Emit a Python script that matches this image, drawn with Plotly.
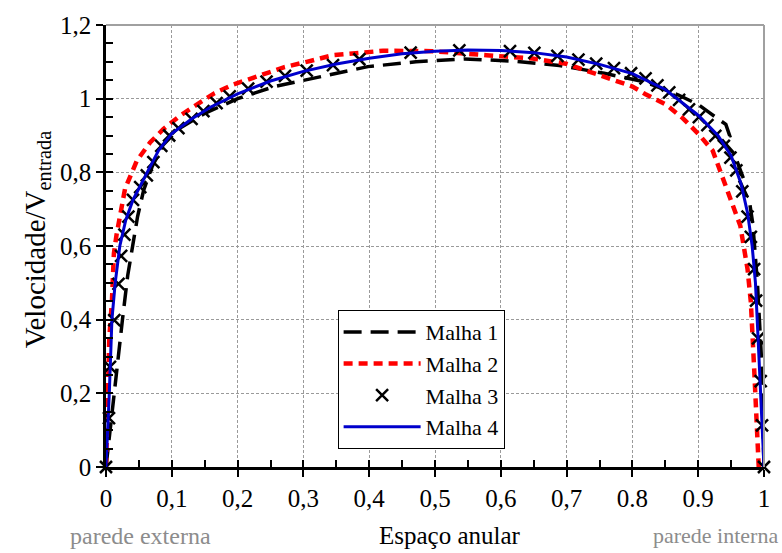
import plotly.graph_objects as go

# ---- data ----
m1_x = [0.0, 0.008, 0.016, 0.025, 0.033, 0.040, 0.048, 0.057, 0.070, 0.087, 0.112, 0.150, 0.200,
        0.256, 0.327, 0.398, 0.471, 0.545, 0.618, 0.689, 0.757, 0.820, 0.870, 0.900, 0.917,
        0.942, 0.948, 0.935, 0.955, 0.970, 0.962, 0.978, 0.983, 0.990, 0.996, 1.0]
m1_y = [0.0, 0.13, 0.27, 0.40, 0.52, 0.60, 0.68, 0.75, 0.815, 0.875, 0.92, 0.96, 1.0,
        1.033, 1.06, 1.087, 1.10, 1.108, 1.102, 1.09, 1.069, 1.045, 1.01, 0.984, 0.962,
        0.93, 0.899, 0.89, 0.85, 0.777, 0.78, 0.72, 0.66, 0.50, 0.30, 0.0]

m2_x = [0.0, 0.002, 0.005, 0.009, 0.012, 0.016, 0.029, 0.047, 0.067, 0.087, 0.112, 0.138, 0.165,
        0.193, 0.221, 0.239, 0.270, 0.305, 0.345, 0.421, 0.496, 0.578, 0.648, 0.699, 0.750,
        0.800, 0.820, 0.851, 0.876, 0.901, 0.922, 0.937, 0.952, 0.964, 0.975, 0.980, 0.985,
        0.990, 0.992]
m2_y = [0.0, 0.20, 0.35, 0.45, 0.58, 0.63, 0.756, 0.832, 0.881, 0.917, 0.953, 0.984, 1.015,
        1.038, 1.055, 1.064, 1.085, 1.10, 1.118, 1.13, 1.129, 1.118, 1.109, 1.095, 1.064,
        1.033, 1.012, 0.984, 0.948, 0.903, 0.859, 0.787, 0.716, 0.655, 0.537, 0.448, 0.269,
        0.09, 0.0]

m3_x = [0.0, 0.0045, 0.006, 0.0126, 0.019, 0.023, 0.028, 0.034, 0.041, 0.052, 0.062, 0.072, 0.084,
        0.096, 0.110, 0.130, 0.148, 0.168, 0.188, 0.216, 0.244, 0.272, 0.305, 0.345, 0.385,
        0.463, 0.537, 0.614, 0.651, 0.686, 0.718, 0.745, 0.772, 0.798, 0.820, 0.838, 0.856,
        0.871, 0.886, 0.901, 0.914, 0.926, 0.939, 0.949, 0.958, 0.967, 0.975, 0.980, 0.985,
        0.988, 0.991, 0.995, 0.997, 1.0]
m3_y = [0.0, 0.133, 0.272, 0.399, 0.497, 0.573, 0.631, 0.680, 0.725, 0.760, 0.792, 0.828, 0.872,
        0.900, 0.920, 0.945, 0.966, 0.988, 1.006, 1.027, 1.046, 1.062, 1.076, 1.091, 1.107,
        1.125, 1.131, 1.129, 1.124, 1.116, 1.106, 1.095, 1.083, 1.069, 1.055, 1.036, 1.017,
        0.997, 0.971, 0.950, 0.928, 0.899, 0.872, 0.840, 0.805, 0.748, 0.680, 0.625, 0.537,
        0.452, 0.349, 0.233, 0.113, 0.0]

m4_x = [0.0, 0.003, 0.005, 0.009, 0.014, 0.021, 0.030, 0.041, 0.060, 0.080, 0.100, 0.130, 0.160,
        0.200, 0.250, 0.300, 0.350, 0.400, 0.450, 0.500, 0.550, 0.600, 0.650, 0.700, 0.750,
        0.800, 0.850, 0.900, 0.930, 0.950, 0.965, 0.975, 0.982, 0.987, 0.991, 0.995, 0.998, 1.0]
m4_y = [0.0, 0.10, 0.20, 0.40, 0.50, 0.60, 0.67, 0.725, 0.79, 0.86, 0.905, 0.945, 0.978,
        1.013, 1.048, 1.074, 1.094, 1.11, 1.122, 1.129, 1.132, 1.131, 1.125, 1.113, 1.093,
        1.068, 1.025, 0.955, 0.90, 0.845, 0.77, 0.69, 0.60, 0.50, 0.35, 0.20, 0.10, 0.0]

series_names = ["Malha 1", "Malha 2", "Malha 3", "Malha 4"]
x_tickvals = [0, 0.1, 0.2, 0.3, 0.4, 0.5, 0.6, 0.7, 0.8, 0.9, 1]
x_ticktext = ["0", "0,1", "0,2", "0,3", "0,4", "0,5", "0,6", "0,7", "0.8", "0.9", "1"]
y_tickvals = [0, 0.2, 0.4, 0.6, 0.8, 1.0, 1.2]
y_ticktext = ["0", "0,2", "0,4", "0,6", "0,8", "1", "1,2"]

FONT = "Liberation Serif, Times New Roman, serif"

fig = go.Figure()
fig.add_trace(go.Scatter(x=m1_x, y=m1_y, mode="lines", name=series_names[0],
                         line=dict(color="black", width=3.5, dash="18px,9px")))
fig.add_trace(go.Scatter(x=m2_x, y=m2_y, mode="lines", name=series_names[1],
                         line=dict(color="#ff0000", width=4.5, dash="9px,6px")))
fig.add_trace(go.Scatter(x=m3_x, y=m3_y, mode="markers", name=series_names[2], cliponaxis=False,
                         marker=dict(symbol="x-thin", size=12, color="black",
                                     line=dict(color="black", width=2.5))))
fig.add_trace(go.Scatter(x=m4_x, y=m4_y, mode="lines", name=series_names[3],
                         line=dict(color="#0000cc", width=3)))

# overlay axes to get inside ticks (major ticks crossing the axis line)
fig.add_trace(go.Scatter(x=[0, 1], y=[0, 0], xaxis="x2", yaxis="y2", mode="lines",
                         line=dict(width=0), showlegend=False, hoverinfo="skip"))

fig.update_layout(
    width=782, height=553,
    margin=dict(l=106, r=17, t=16, b=86),
    paper_bgcolor="white", plot_bgcolor="white",
    font=dict(family=FONT, size=25, color="black"),
    showlegend=True,
    legend=dict(x=0.352, y=0.355, xanchor="left", yanchor="top",
                bgcolor="white", bordercolor="black", borderwidth=1,
                font=dict(family=FONT, size=22), tracegroupgap=0,
                itemwidth=77),
    xaxis=dict(range=[0, 1], tickvals=x_tickvals, ticktext=x_ticktext,
               showgrid=True, gridcolor="#9a9a9a", griddash="3px,2px", gridwidth=1,
               zeroline=False, showline=True, linecolor="black", linewidth=2.5,
               ticks="outside", ticklen=7, tickwidth=2, tickcolor="black",
               ticklabeloverflow="allow", tickfont=dict(family=FONT, size=25)),
    yaxis=dict(range=[0, 1.2], tickvals=y_tickvals, ticktext=y_ticktext,
               showgrid=True, gridcolor="#9a9a9a", griddash="3px,2px", gridwidth=1,
               zeroline=False, showline=True, linecolor="black", linewidth=2.5,
               ticks="outside", ticklen=7, tickwidth=2, tickcolor="black",
               ticklabeloverflow="allow", tickfont=dict(family=FONT, size=25)),
    xaxis2=dict(overlaying="x", anchor="y2", side="bottom", range=[0, 1],
                tick0=0, dtick=0.05, ticks="inside", ticklen=7, tickwidth=2, tickcolor="black",
                showticklabels=False, showgrid=False, zeroline=False, showline=False),
    yaxis2=dict(overlaying="y", anchor="x2", side="left", range=[0, 1.2],
                tick0=0, dtick=0.05, ticks="inside", ticklen=7, tickwidth=2, tickcolor="black",
                showticklabels=False, showgrid=False, zeroline=False, showline=False),
    shapes=[
        dict(type="line", xref="paper", yref="paper", x0=0, x1=1, y0=1, y1=1,
             line=dict(color="#a0a0a0", width=2)),
        dict(type="line", xref="paper", yref="paper", x0=1, x1=1, y0=0, y1=1,
             line=dict(color="#a0a0a0", width=2)),
    ],
    annotations=[
        dict(text="Velocidade/V<sub>entrada</sub>", xref="paper", yref="paper",
             x=-0.105, y=0.515, xanchor="center", yanchor="middle", textangle=-90,
             showarrow=False, font=dict(family=FONT, size=29, color="black")),
        dict(text="Espaço anular", xref="paper", yref="paper", x=0.523, y=-0.156,
             xanchor="center", yanchor="middle",
             showarrow=False, font=dict(family=FONT, size=25, color="black")),
        dict(text="parede externa", xref="paper", yref="paper", x=0.053, y=-0.156,
             xanchor="center", yanchor="middle",
             showarrow=False, font=dict(family=FONT, size=24, color="#8c8c8c")),
        dict(text="parede interna", xref="paper", yref="paper", x=0.927, y=-0.156,
             xanchor="center", yanchor="middle",
             showarrow=False, font=dict(family=FONT, size=22, color="#8c8c8c")),
    ],
)

fig.write_html("out.html", config={"displayModeBar": False},
               post_script="document.body.style.margin='0px';")
